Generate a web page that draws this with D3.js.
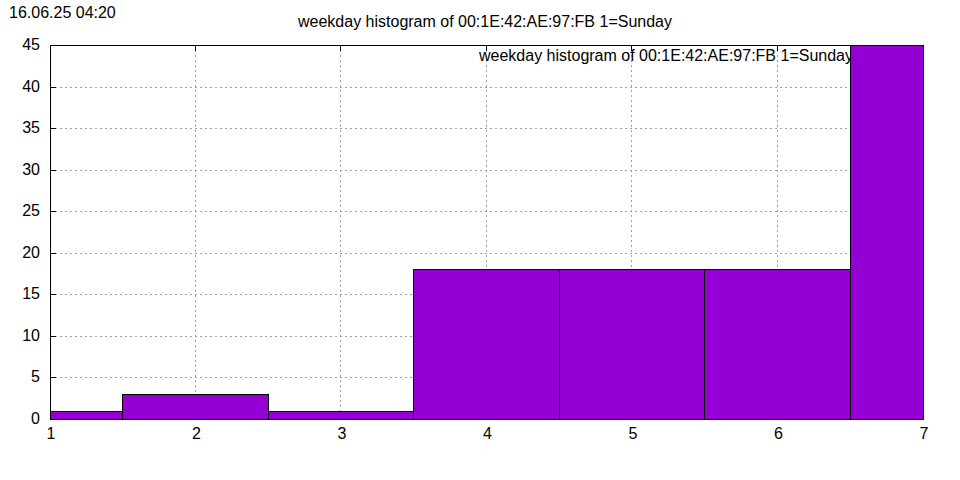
<!DOCTYPE html>
<html><head><meta charset="utf-8">
<script src="https://cdn.jsdelivr.net/npm/d3@7"></script>
<style>body{margin:0;background:#fff}svg text{font-family:"Liberation Sans",Arial,sans-serif;fill:#000}</style>
</head><body><svg id="c" width="960" height="480"></svg>
<script>
const weekdays = [1,2,3,4,5,6,7];
const counts = [1,3,1,18,18,18,45];
const xTicks = [1,2,3,4,5,6,7];
const yTicks = [0,5,10,15,20,25,30,35,40,45];
const titleText = "weekday histogram of 00:1E:42:AE:97:FB 1=Sunday";
const stamp = "16.06.25 04:20";

const svg = d3.select("#c");
const L=50,R=923,T=45,B=419;
const x = d3.scaleLinear().domain([1,7]).range([L,R]);
const y = d3.scaleLinear().domain([0,45]).range([B,T]);
const px = v=>Math.floor(x(v)), py = v=>Math.round(y(v));

// grid
const g = svg.append("g").attr("stroke","#a0a0a0").attr("stroke-dasharray","2,3").attr("stroke-width",1);
xTicks.slice(1,-1).forEach(t=>g.append("line").attr("x1",px(t)+0.5).attr("x2",px(t)+0.5).attr("y1",T).attr("y2",B));
yTicks.slice(1,-1).forEach(t=>g.append("line").attr("y1",py(t)+0.5).attr("y2",py(t)+0.5).attr("x1",L).attr("x2",R));

// border
svg.append("rect").attr("x",L+0.5).attr("y",T+0.5).attr("width",R-L).attr("height",B-T).attr("fill","none").attr("stroke","#000");

// ticks
const tk = svg.append("g").attr("stroke","#000");
xTicks.forEach(t=>{const xx=px(t)+0.5;tk.append("line").attr("x1",xx).attr("x2",xx).attr("y1",B).attr("y2",B-6);tk.append("line").attr("x1",xx).attr("x2",xx).attr("y1",T).attr("y2",T+6);});
yTicks.forEach(t=>{const yy=py(t)+0.5;tk.append("line").attr("y1",yy).attr("y2",yy).attr("x1",L).attr("x2",L+6);tk.append("line").attr("y1",yy).attr("y2",yy).attr("x1",R).attr("x2",R-6);});

// labels
svg.append("g").selectAll("text").data(yTicks).join("text").attr("x",40).attr("y",d=>y(d)+5).attr("text-anchor","end").attr("font-size",16).text(d=>d);
svg.append("g").selectAll("text").data(xTicks).join("text").attr("x",d=>x(d)+1).attr("y",439).attr("text-anchor","middle").attr("font-size",16).text(d=>d);

svg.append("text").attr("x",485).attr("y",27).attr("text-anchor","middle").attr("font-size",16).text(titleText);
svg.append("text").attr("x",9).attr("y",18).attr("font-size",16).text(stamp);
svg.append("text").attr("x",853).attr("y",61).attr("text-anchor","end").attr("font-size",16).text(titleText);

// bars
const data = weekdays.map((d,i)=>({d,v:counts[i]}));
svg.append("g").selectAll("rect").data(data).join("rect")
 .attr("x",d=>px(Math.max(1,d.d-0.5))+0.5)
 .attr("width",d=>px(Math.min(7,d.d+0.5))-px(Math.max(1,d.d-0.5)))
 .attr("y",d=>py(d.v)+0.5)
 .attr("height",d=>py(0)-py(d.v))
 .attr("fill","#9400d3").attr("stroke","#000").attr("stroke-width",1);
</script></body></html>
